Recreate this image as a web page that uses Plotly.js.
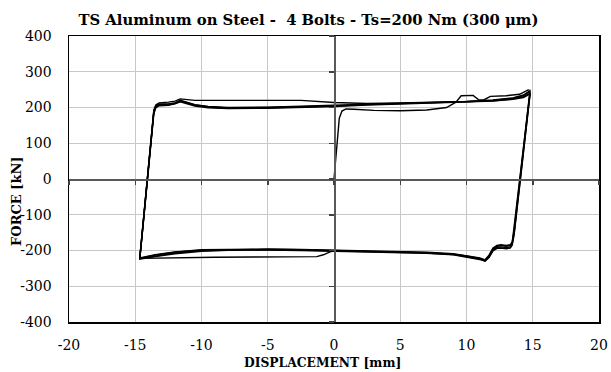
<!DOCTYPE html>
<html>
<head>
<meta charset="utf-8">
<script src="https://cdn.plot.ly/plotly-3.0.1.min.js"></script>
<style>html,body{margin:0;padding:0;background:#fff;}#chart{width:611px;height:372px;}</style>
</head>
<body>
<div id="chart"></div>
<script>
// Displacement path of one hysteresis cycle (mm)
const cycleX = [14.8,14.5,14.2,14.0,13.8,13.6,13.45,13.3,13.0,12.6,12.3,12.0,11.7,11.4,11.0,10.0,9.0,7.0,5.0,2.5,0,-2.5,-5,-7.5,-10,-12,-13.5,-14.66,-14.5,-14.3,-14.0,-13.8,-13.6,-13.45,-13.2,-12.5,-12.0,-11.6,-11.2,-10.5,-9.5,-8,-5,-2.5,0,2.5,5,7.5,10,12,13.5,14.3,14.8];
// Force of each cycle (kN)
const cycle1Y = [250,150,52,-10,-78,-143,-176,-184,-186,-184,-186,-193,-213,-226,-221,-214,-209,-205,-203,-201,-199,-197,-196,-196,-198,-204,-212,-221,-158,-80,38,116,192,207,213,215,218,224,222,220,220,220,221,220,214,211,213,215,217,221,227,235,247];
const cycle2Y = [245,148,50,-12,-80,-145,-178,-186,-188,-186,-188,-195,-215,-227,-222,-215,-210,-206,-204,-202,-200,-198,-197,-197,-199,-205,-213,-222,-160,-82,36,114,190,205,210,210,213,220,216,208,203,200,201,203,205,209,212,214,216,220,226,233,245];
const cycle3Y = [240,142,44,-18,-86,-150,-182,-190,-192,-190,-191,-198,-218,-229,-224,-217,-211,-207,-205,-203,-201,-199,-198,-198,-200,-207,-215,-223,-162,-85,32,110,186,202,207,208,212,218,214,206,201,198,199,201,204,208,211,213,215,219,224,230,240];
const cycle4Y = [238,138,40,-22,-90,-154,-185,-193,-195,-193,-194,-201,-220,-230,-225,-218,-212,-208,-206,-204,-202,-200,-199,-199,-202,-209,-217,-224,-165,-88,28,106,182,199,205,206,210,216,212,204,199,197,198,200,203,207,210,212,214,218,223,228,238];
// Initial loading from rest
const initX = [0,0.1,0.25,0.4,0.6,0.9,1.5,3,5,7,8.5,9.2,9.6,10.5,10.9,11.3,11.8,13,14,14.7];
const initY = [0,40,110,170,190,196,195,192,191,193,200,215,233,234,222,221,231,233,237,250];
// Final partial cycle
const endX = [2.5,0,-0.3,-0.8,-1.3,-3,-6,-9,-12,-14,-14.66,-14.5,-14.3,-14.0,-13.8,-13.6,-13.45,-13.2,-12.5,-12.0,-11.6,-11.2,-10.5,-9.5,-8,-5,-2.5,0];
const endY = [-202,-201,-204,-212,-217,-218,-218,-219,-220,-221,-222,-161,-84,34,112,188,203,208,209,212,219,215,207,202,199,200,202,204];

const xTicks = [-20,-15,-10,-5,0,5,10,15,20];
const yTicks = [-400,-300,-200,-100,0,100,200,300,400];

const FONT = 'DejaVu Serif';
const line = {color:'#000', width:1.4};
function tr(x,y){return {x:x,y:y,type:'scatter',mode:'lines',line:line,hoverinfo:'skip',showlegend:false};}

const data = [
  tr(initX, initY),
  tr(cycleX, cycle1Y),
  tr(cycleX, cycle2Y),
  tr(cycleX, cycle3Y),
  tr(cycleX, cycle4Y),
  tr(endX, endY),
  {x:[], y:[], xaxis:'x2', yaxis:'y2', type:'scatter', mode:'lines', showlegend:false}
];

const layout = {
  width:611, height:372,
  margin:{l:69, r:12, t:36, b:50},
  paper_bgcolor:'#fff', plot_bgcolor:'#fff',
  showlegend:false,
  title:{text:'TS Aluminum on Steel -  4 Bolts - Ts=200 Nm (300 μm)', font:{family:FONT, size:14.8, color:'#000', weight:'bold'},
         x:308.5/611, xanchor:'center', xref:'container', y:1-20/372, yanchor:'middle', yref:'container'},
  xaxis:{range:[-20,20], tickvals:xTicks, ticktext:xTicks.map(String), showgrid:true, gridcolor:'#c8c8c8', gridwidth:1,
         zeroline:false, showline:true, mirror:true, linecolor:'#000', linewidth:1.5,
         ticks:'outside', ticklen:10, tickcolor:'rgba(0,0,0,0)', tickfont:{family:FONT, size:14, color:'#000'}, fixedrange:true},
  yaxis:{range:[-400,400], tickvals:yTicks, ticktext:yTicks.map(String), showgrid:true, gridcolor:'#c8c8c8', gridwidth:1,
         zeroline:false, showline:true, mirror:true, linecolor:'#000', linewidth:1.5,
         ticks:'outside', ticklen:13, tickcolor:'rgba(0,0,0,0)', tickfont:{family:FONT, size:14, color:'#000'}, fixedrange:true},
  xaxis2:{range:[-20,20], overlaying:'x', anchor:'free', position:0.5, side:'bottom', tickvals:xTicks, showticklabels:false,
          showgrid:false, zeroline:false, showline:true, linecolor:'#595959', linewidth:1.5, ticks:'outside', ticklen:4, tickcolor:'#404040', tickwidth:1.5},
  yaxis2:{range:[-400,400], overlaying:'y', anchor:'free', position:0.5, side:'left', tickvals:yTicks, showticklabels:false,
          showgrid:false, zeroline:false, showline:true, linecolor:'#595959', linewidth:1.5, ticks:'outside', ticklen:5, tickcolor:'#404040', tickwidth:1.5},
  annotations:[
    {text:'DISPLACEMENT [mm]', xref:'paper', yref:'paper', x:(322-69)/530, y:-(362-321.7)/286, xanchor:'center', yanchor:'middle', showarrow:false,
     font:{family:FONT, size:12.3, color:'#000', weight:'bold'}},
    {text:'FORCE [kN]', xref:'paper', yref:'paper', x:(15.8-69)/530, y:(321.7-200.8)/286, xanchor:'center', yanchor:'middle', textangle:-90, showarrow:false,
     font:{family:FONT, size:13, color:'#000', weight:'bold'}}
  ]
};

Plotly.newPlot('chart', data, layout, {staticPlot:true, displayModeBar:false});
</script>
</body>
</html>
